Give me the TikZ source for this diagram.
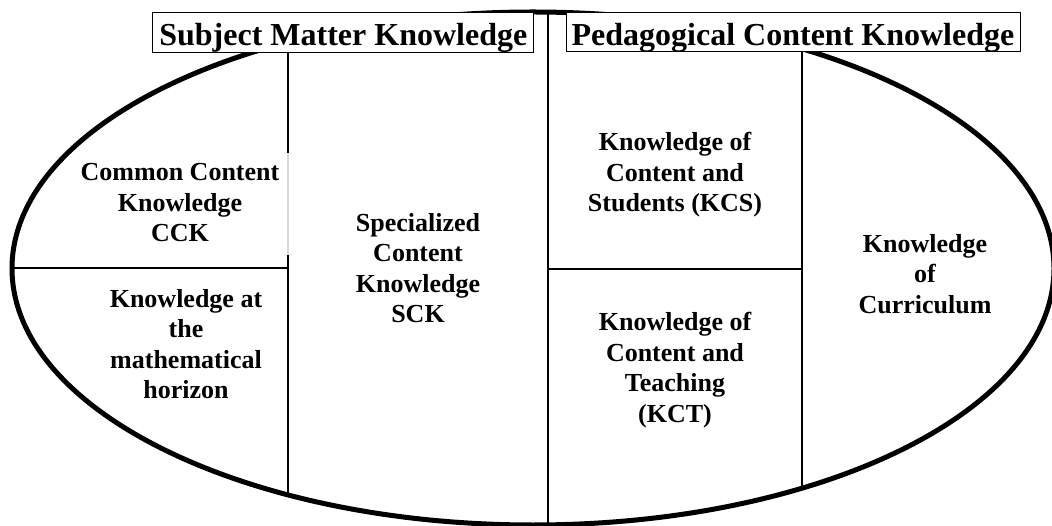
\documentclass[tikz,border=0pt]{standalone}
\usepackage{fontspec}
\setmainfont{Liberation Serif}
\tikzset{
  head/.style={draw, line width=1pt, fill=white, inner sep=0pt, text height=28pt, text depth=2pt, font=\fontsize{32}{36}\selectfont\bfseries},
  label/.style={align=center, inner sep=0pt, font=\fontsize{26}{30.5}\selectfont\bfseries},
  divider/.style={line width=2pt},
  thindiv/.style={line width=1.5pt}
}
\begin{document}
\begin{tikzpicture}[x=1pt,y=-1pt]
\useasboundingbox (0,0) rectangle (1052,526);
% outer ellipse
\draw[line width=5pt] (533,268.5) ellipse [x radius=521pt, y radius=256.5pt];
% coordinates
\coordinate (ctop) at (548,12);
\coordinate (cbot) at (548,527);
\coordinate (lvt) at (288,52);
\coordinate (lgapA) at (288,153);
\coordinate (lgapB) at (288,255);
\coordinate (lvb) at (288,495);
\coordinate (rvt) at (802,52);
\coordinate (rvb) at (802,490);
\coordinate (lhl) at (13,268);
\coordinate (lhr) at (288,268);
\coordinate (rhl) at (548,269);
\coordinate (rhr) at (802,269);
% dividers
\draw[divider] (ctop) -- (cbot);
\draw[thindiv] (lvt) -- (lgapA);
\draw[thindiv, black!15] (lgapA) -- (lgapB);
\draw[thindiv] (lgapB) -- (lvb);
\draw[divider] (rvt) -- (rvb);
\draw[divider] (lhl) -- (lhr);
\draw[divider] (rhl) -- (rhr);
% header boxes
\node[head, minimum width=381pt, minimum height=39.5pt] (smk) at (343.3,32.4) {Subject Matter Knowledge};
\node[head, minimum width=454pt, minimum height=39pt] (pck) at (793,32.5) {Pedagogical Content Knowledge};
% labels
\node[label] (cck) at (180,203) {Common Content\\Knowledge\\CCK};
\node[label] (hor) at (186,344) {Knowledge at\\the\\mathematical\\horizon};
\node[label] (sck) at (418,268) {Specialized\\Content\\Knowledge\\SCK};
\node[label] (kcs) at (675,175) {Knowledge of\\Content and\\Students (KCS)};
\node[label] (kct) at (675,370) {Knowledge of\\Content and\\Teaching\\(KCT)};
\node[label] (kc) at (925,274) {Knowledge\\of\\Curriculum};
\end{tikzpicture}
\end{document}
